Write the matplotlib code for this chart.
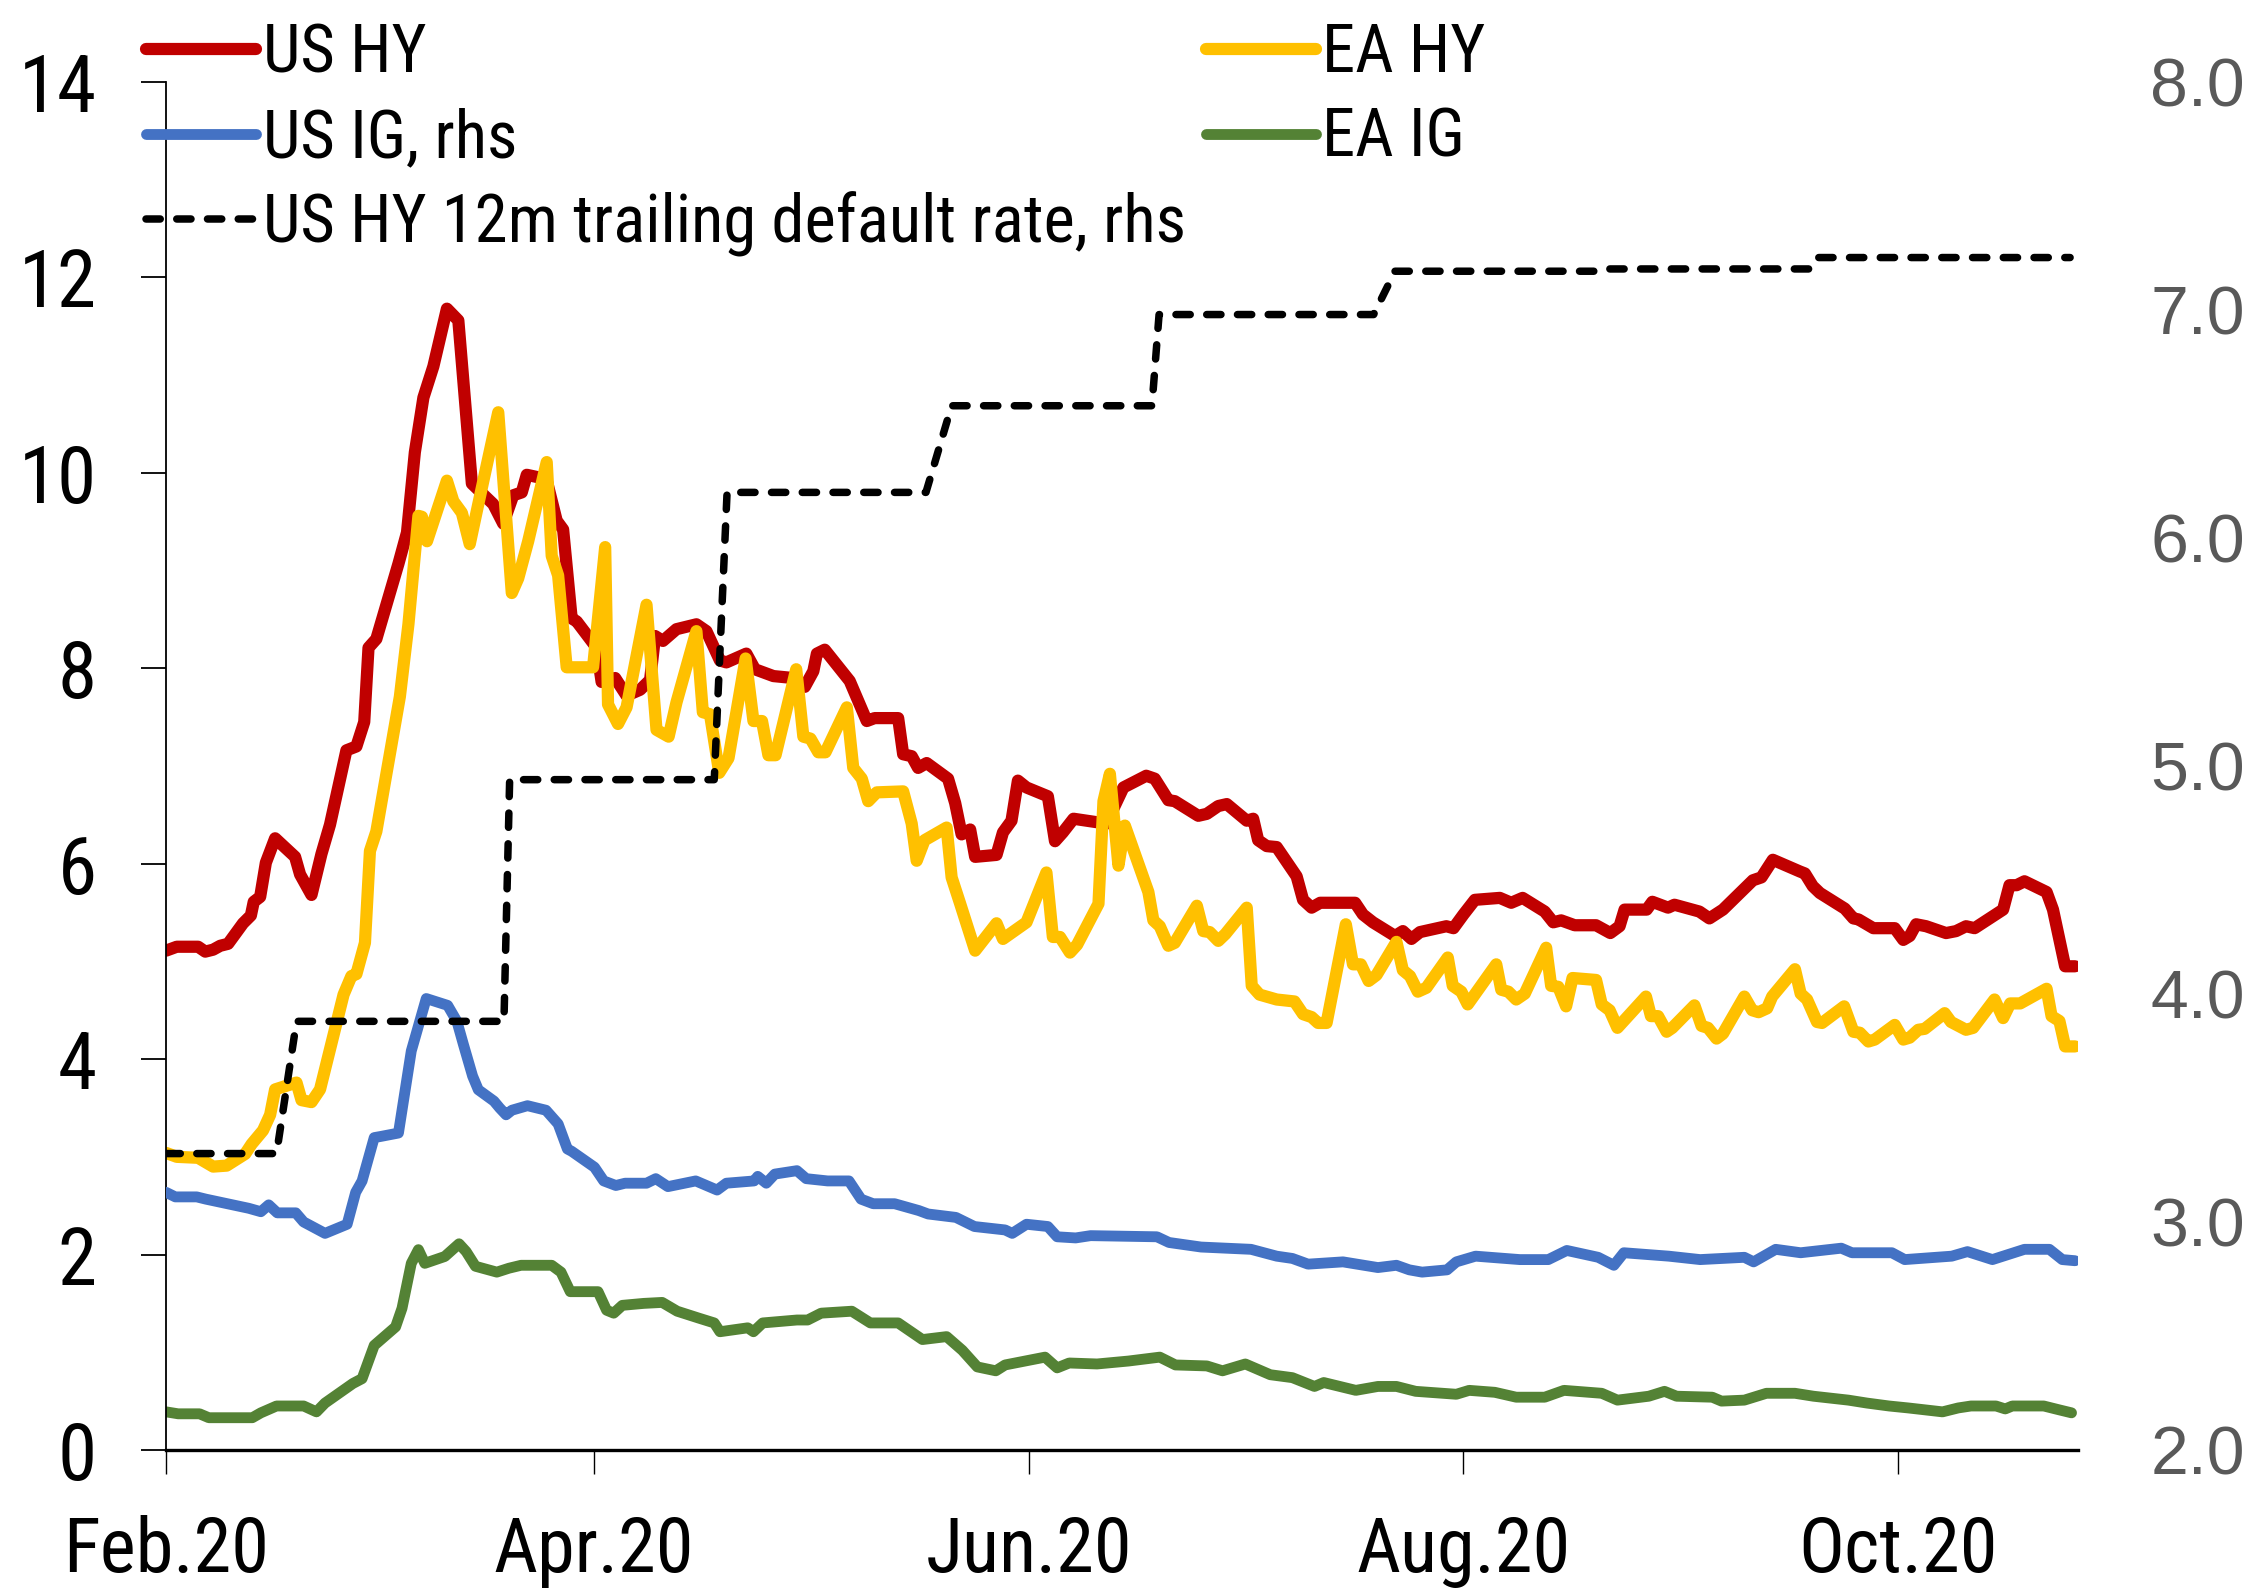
import pandas as pd
import matplotlib
matplotlib.use("Agg")
import matplotlib.pyplot as plt
import matplotlib.dates as mdates
from matplotlib.ticker import MultipleLocator, FormatStrFormatter

# --- data: days since 1 Feb 2020, spreads in % ---
start = pd.Timestamp("2020-02-01")

us_hy_days = [0, 1.5, 4.5, 5.5, 6.6, 7.6, 8.7, 10.8, 11.9, 12.3, 13.2, 14.0, 15.3, 18.1, 18.8, 20.4, 21.8, 23.0,
              25.3, 26.7, 27.8, 28.4, 29.5, 32.6, 33.8, 34.9, 36.1, 37.5, 39.4, 41.0, 42.9, 45.9, 47.3, 48.7,
              49.9, 50.6, 52.5, 53.4, 54.8, 55.7, 56.9, 57.6, 60.4, 61.1, 63.0, 64.6, 66.5, 67.9, 68.6, 69.7,
              71.6, 74.4, 75.8, 77.7, 78.6, 81.4, 82.6, 85.2, 88.0, 89.6, 90.8, 91.3, 92.4, 95.9, 98.3, 99.4,
              102.7, 103.4, 104.6, 105.5, 106.7, 109.7, 110.7, 111.6, 112.8, 113.5, 116.5, 117.4, 118.6, 119.5,
              120.7, 123.7, 124.7, 125.8, 127.3, 131.9, 134.3, 137.5, 138.7, 140.6, 141.5, 144.8, 146.0, 147.6,
              148.8, 151.6, 152.5, 153.2, 154.4, 155.8, 158.6, 159.5, 160.7, 161.9, 166.8, 167.9, 169.3, 172.4,
              173.5, 174.7, 175.9, 179.6, 180.6, 182.0, 183.6, 187.1, 188.7, 190.3, 193.4, 194.6, 195.7, 197.6,
              200.6, 202.6, 203.9, 204.6, 207.7, 208.5, 210.7, 211.6, 215.1, 216.5, 218.4, 222.6, 223.8, 225.4,
              229.2, 229.9, 231.0, 232.0, 235.5, 236.7, 237.4, 239.5, 242.5, 243.7, 244.6, 245.5, 246.9, 249.7,
              251.1, 252.5, 253.7, 257.7, 258.6, 259.6, 260.7, 263.8, 264.7, 266.4, 267.8]
us_hy = [5.11, 5.15, 5.15, 5.10, 5.12, 5.16, 5.18, 5.39, 5.47, 5.61, 5.66, 6.01, 6.26, 6.07, 5.89, 5.68, 6.10, 6.40,
         7.16, 7.20, 7.45, 8.21, 8.30, 9.07, 9.39, 10.21, 10.77, 11.09, 11.68, 11.56, 9.89, 9.68, 9.48, 9.77,
         9.80, 9.98, 9.95, 9.92, 9.51, 9.42, 8.51, 8.48, 8.21, 7.86, 7.90, 7.72, 7.78, 7.88, 8.33, 8.28,
         8.40, 8.45, 8.38, 8.08, 8.06, 8.15, 7.99, 7.92, 7.90, 7.81, 7.97, 8.15, 8.19, 7.87, 7.46, 7.49,
         7.49, 7.12, 7.10, 6.98, 7.03, 6.87, 6.62, 6.30, 6.35, 6.07, 6.09, 6.32, 6.44, 6.85,
         6.78, 6.69, 6.23, 6.32, 6.46, 6.41, 6.78, 6.90, 6.87, 6.65, 6.64, 6.49, 6.51, 6.59,
         6.61, 6.44, 6.46, 6.24, 6.18, 6.17, 5.87, 5.63, 5.55, 5.60, 5.60, 5.48, 5.40, 5.26,
         5.31, 5.23, 5.30, 5.36, 5.34, 5.48, 5.63, 5.65, 5.60, 5.65, 5.51, 5.40, 5.42, 5.37,
         5.37, 5.29, 5.36, 5.53, 5.53, 5.61, 5.55, 5.58, 5.51, 5.44, 5.53, 5.83, 5.86, 6.04,
         5.92, 5.90, 5.77, 5.70, 5.54, 5.44, 5.43, 5.34, 5.34, 5.22, 5.26, 5.38, 5.36, 5.29,
         5.31, 5.36, 5.34, 5.53, 5.78, 5.78, 5.82, 5.71, 5.53, 4.95, 4.95]

ea_hy_days = [0, 1.5, 4.5, 6.6, 8.5, 11.1, 12.0, 13.6, 14.6, 15.3, 18.3, 19.0, 20.4, 21.6, 24.9, 26.0, 26.7, 27.9,
              28.6, 29.5, 32.8, 34.0, 35.4, 35.9, 36.6, 39.4, 40.3, 41.5, 42.6, 43.8, 46.6, 48.5, 49.4, 50.8,
              53.4, 54.1, 55.0, 56.2, 59.9, 61.6, 62.0, 63.4, 64.6, 67.4, 68.8, 70.5, 71.6, 74.4, 75.3, 76.3,
              77.6, 78.9, 81.3, 82.4, 83.6, 84.5, 85.5, 88.4, 89.4, 90.4, 91.5, 92.5, 95.5, 96.4, 97.6, 98.5,
              99.7, 103.4, 104.6, 105.3, 106.4, 109.5, 110.2, 111.4, 113.5, 116.5, 117.4, 120.7, 123.5, 124.4,
              125.4, 126.8, 127.8, 130.8, 131.5, 132.4, 133.6, 134.5, 137.8, 138.5, 139.4, 140.6, 141.5, 144.6,
              145.5, 146.4, 147.6, 148.6, 151.6, 152.3, 153.4, 155.8, 158.3, 159.5, 160.7, 161.6, 162.8, 165.5,
              166.5, 167.6, 168.7, 169.8, 172.6, 173.5, 174.5, 175.6, 176.8, 179.8, 180.5, 181.7, 182.6, 186.6,
              187.3, 188.3, 189.4, 190.6, 193.6, 194.3, 195.3, 196.4, 197.3, 200.6, 201.4, 202.5, 203.6, 207.6,
              208.3, 209.3, 210.5, 211.3, 214.4, 215.4, 216.3, 217.5, 218.4, 221.4, 222.5, 223.4, 224.6, 225.3,
              228.5, 229.3, 230.2, 231.6, 232.3, 235.4, 236.7, 237.6, 238.8, 239.7, 242.5, 243.7, 244.6, 245.8,
              246.7, 249.5, 250.4, 252.5, 253.5, 256.5, 257.7, 258.7, 260.1, 263.8, 264.5, 265.6, 266.4, 267.8]
ea_hy = [3.04, 3.00, 2.99, 2.90, 2.91, 3.03, 3.13, 3.27, 3.43, 3.69, 3.76, 3.58, 3.56, 3.69, 4.66, 4.85, 4.87, 5.19,
         6.13, 6.33, 7.71, 8.45, 9.56, 9.55, 9.30, 9.92, 9.71, 9.59, 9.27, 9.68, 10.62, 8.77, 8.92, 9.30,
         10.11, 9.15, 8.95, 8.01, 8.01, 9.24, 7.63, 7.43, 7.60, 8.65, 7.37, 7.30, 7.65, 8.38, 7.55, 7.53,
         6.93, 7.08, 8.10, 7.46, 7.46, 7.11, 7.11, 7.99, 7.30, 7.28, 7.14, 7.14, 7.60, 6.98, 6.87, 6.64,
         6.73, 6.74, 6.41, 6.03, 6.24, 6.37, 5.86, 5.59, 5.11, 5.39, 5.23, 5.40, 5.91, 5.25,
         5.25, 5.09, 5.17, 5.59, 6.64, 6.92, 5.98, 6.39, 5.71, 5.42, 5.36, 5.16, 5.19, 5.57,
         5.31, 5.30, 5.21, 5.28, 5.55, 4.75, 4.66, 4.61, 4.59, 4.46, 4.43, 4.37, 4.37, 5.38,
         4.97, 4.97, 4.80, 4.86, 5.20, 4.91, 4.85, 4.69, 4.73, 5.04, 4.75, 4.69, 4.56, 4.97,
         4.71, 4.69, 4.61, 4.67, 5.14, 4.75, 4.74, 4.54, 4.83, 4.81, 4.56, 4.50, 4.32, 4.64,
         4.44, 4.44, 4.28, 4.32, 4.55, 4.34, 4.32, 4.21, 4.26, 4.64, 4.50, 4.48, 4.52, 4.64,
         4.92, 4.67, 4.61, 4.38, 4.37, 4.54, 4.28, 4.27, 4.18, 4.20, 4.35, 4.20, 4.22, 4.30,
         4.31, 4.47, 4.38, 4.30, 4.32, 4.61, 4.42, 4.57, 4.57, 4.72, 4.44, 4.39, 4.13, 4.13]

us_ig_days = [0, 1.3, 4.3, 5.6, 8.6, 11.6, 13.3, 14.4, 15.6, 18.2, 19.3, 22.3, 25.4, 26.6, 27.5, 29.2, 30.1, 32.6,
              34.4, 36.5, 39.5, 40.8, 41.7, 43.0, 43.8, 46.0, 46.8, 47.7, 48.5, 50.7, 53.3, 55.0, 56.3, 56.9,
              60.1, 61.4, 63.1, 64.4, 67.4, 68.7, 70.4, 74.3, 77.3, 78.6, 82.5, 83.0, 84.2, 85.4, 88.5, 89.8,
              92.8, 95.8, 97.5, 99.2, 102.2, 105.6, 106.9, 110.8, 113.4, 117.7, 118.7, 120.7, 123.7, 125.0,
              127.6, 129.7, 139.0, 140.7, 145.2, 152.2, 155.8, 158.0, 160.2, 165.1, 170.0, 172.6, 174.4, 176.2,
              179.7, 181.0, 183.7, 189.9, 193.9, 196.5, 200.9, 203.1, 204.5, 210.8, 215.2, 221.4, 222.7, 225.8,
              229.3, 235.0, 236.5, 242.1, 243.9, 250.5, 252.7, 256.2, 260.7, 264.2, 266.0, 267.8]
us_ig = [3.13, 3.11, 3.11, 3.10, 3.08, 3.06, 3.045, 3.075, 3.04, 3.04, 3.00, 2.95, 2.99, 3.13, 3.18, 3.37, 3.375, 3.39,
         3.75, 3.98, 3.95, 3.88, 3.78, 3.64, 3.58, 3.53, 3.50, 3.47, 3.49, 3.51, 3.49, 3.43, 3.32, 3.31,
         3.24, 3.18, 3.16, 3.17, 3.17, 3.19, 3.155, 3.18, 3.14, 3.17, 3.18, 3.20, 3.17, 3.21, 3.225, 3.19,
         3.18, 3.18, 3.10, 3.08, 3.08, 3.05, 3.035, 3.02, 2.98, 2.965, 2.95, 2.99, 2.98, 2.935,
         2.93, 2.94, 2.935, 2.91, 2.89, 2.88, 2.85, 2.84, 2.815, 2.825, 2.80, 2.81, 2.79, 2.78,
         2.79, 2.825, 2.85, 2.835, 2.835, 2.875, 2.845, 2.81, 2.865, 2.85, 2.835, 2.845, 2.825, 2.88,
         2.865, 2.885, 2.865, 2.865, 2.835, 2.85, 2.87, 2.835, 2.88, 2.88, 2.835, 2.83]

ea_ig_days = [0, 1.7, 4.7, 6.0, 12.1, 13.3, 15.5, 19.3, 21.1, 22.3, 26.2, 27.5, 29.2, 32.2, 33.1, 34.4, 35.4, 36.3,
              39.1, 41.1, 42.1, 43.4, 46.4, 48.1, 49.8, 54.1, 55.4, 56.7, 60.6, 61.8, 62.8, 64.0, 67.0, 69.6,
              71.7, 74.7, 76.9, 77.7, 81.6, 82.4, 83.7, 88.5, 90.0, 91.9, 96.2, 98.8, 102.7, 106.1, 109.5, 111.7,
              113.8, 116.4, 117.7, 123.3, 125.0, 126.7, 130.6, 135.0, 139.4, 141.6, 146.0, 148.2, 151.4, 154.9,
              158.0, 161.1, 162.4, 166.9, 170.0, 172.6, 175.3, 181.0, 182.8, 186.4, 189.4, 193.4, 196.1, 201.4,
              203.6, 208.0, 210.2, 211.9, 216.9, 218.2, 221.4, 224.5, 228.5, 231.1, 236.0, 238.6, 241.7, 244.4,
              249.2, 251.4, 253.2, 256.7, 258.0, 259.0, 263.4, 265.6, 267.3]
ea_ig = [0.39, 0.37, 0.37, 0.33, 0.33, 0.38, 0.45, 0.45, 0.39, 0.48, 0.68, 0.73, 1.07, 1.26, 1.45, 1.91, 2.05, 1.91,
         1.98, 2.11, 2.03, 1.88, 1.82, 1.86, 1.89, 1.89, 1.82, 1.62, 1.62, 1.43, 1.40, 1.48, 1.50, 1.51,
         1.42, 1.35, 1.30, 1.21, 1.25, 1.21, 1.30, 1.33, 1.33, 1.40, 1.42, 1.30, 1.30, 1.13, 1.16, 1.02,
         0.85, 0.81, 0.87, 0.95, 0.84, 0.89, 0.88, 0.91, 0.95, 0.87, 0.86, 0.81, 0.88, 0.77,
         0.74, 0.65, 0.69, 0.61, 0.65, 0.65, 0.60, 0.57, 0.61, 0.59, 0.54, 0.54, 0.61, 0.58,
         0.51, 0.55, 0.60, 0.55, 0.54, 0.50, 0.51, 0.58, 0.58, 0.55, 0.51, 0.48, 0.45, 0.43,
         0.39, 0.43, 0.45, 0.45, 0.42, 0.45, 0.45, 0.41, 0.38]

default_days = [0, 15.5, 18.3, 47.4, 48.2, 76.9, 78.7, 106.6, 110.2, 138.3, 139.3, 169.4, 172.4,
                201.0, 201.8, 230.6, 231.6, 267.1]
default_rate = [3.30, 3.30, 3.88, 3.88, 4.94, 4.94, 6.20, 6.20, 6.58, 6.58, 6.98, 6.98, 7.17,
                7.17, 7.18, 7.18, 7.23, 7.23]


def to_dates(days):
    return start + pd.to_timedelta(days, unit="D")


narrow = ["Roboto Condensed", "DejaVu Sans"]
plt.rcParams["font.family"] = narrow

fig = plt.figure(figsize=(22.44, 15.89), dpi=100)
ax = fig.add_axes([0.074, 0.0875, 0.852, 0.8609])
ax2 = ax.twinx()

kw = dict(solid_joinstyle="round", solid_capstyle="round")
l_ushy, = ax.plot(to_dates(us_hy_days), us_hy, color="#C00000", lw=8.8, label="US HY", **kw)
l_eahy, = ax.plot(to_dates(ea_hy_days), ea_hy, color="#FFC000", lw=8.8, label="EA HY", **kw)
l_eaig, = ax.plot(to_dates(ea_ig_days), ea_ig, color="#548235", lw=7.8, label="EA IG", **kw)
l_usig, = ax2.plot(to_dates(us_ig_days), us_ig, color="#4472C4", lw=7.8, label="US IG, rhs", **kw)
l_def, = ax2.plot(to_dates(default_days), default_rate, color="black", lw=5.4, dashes=(1.9, 2.2),
                  dash_capstyle="round", label="US HY 12m trailing default rate, rhs")

# axes limits and ticks
ax.set_xlim(start, to_dates([268.2])[0])
ax.set_ylim(0, 14)
ax2.set_ylim(2, 8)
ax.yaxis.set_major_locator(MultipleLocator(2))
ax2.yaxis.set_major_locator(MultipleLocator(1))
ax2.yaxis.set_major_formatter(FormatStrFormatter("%.1f"))
ax.xaxis.set_major_locator(mdates.MonthLocator(bymonth=[2, 4, 6, 8, 10]))
ax.xaxis.set_major_formatter(mdates.DateFormatter("%b.%y"))

for a in (ax, ax2):
    a.spines["top"].set_visible(False)
    a.spines["right"].set_visible(False)
ax2.spines["left"].set_visible(False)
ax2.spines["bottom"].set_visible(False)
ax.spines["left"].set_linewidth(1.3)
ax.spines["bottom"].set_linewidth(2.4)

ax.tick_params(axis="y", direction="out", length=18, width=1.3, pad=32, labelsize=57, colors="black")
ax.tick_params(axis="x", direction="out", length=17, width=1.0, pad=30, labelsize=55)
ax2.tick_params(axis="y", length=0, pad=52, labelsize=49, labelcolor="#595959")
for t in ax2.get_yticklabels():
    t.set_fontfamily(["Liberation Sans", "DejaVu Sans"])

leg = ax2.legend(handles=[l_ushy, l_usig, l_def, l_eahy, l_eaig], ncol=2, loc="upper left",
                 bbox_to_anchor=(0.065, 0.986), bbox_transform=fig.transFigure, frameon=False,
                 fontsize=48, handlelength=1.65, handletextpad=0.1, columnspacing=0.3,
                 labelspacing=0.31, borderpad=0, borderaxespad=0)

fig.savefig("out.png", dpi=100)
